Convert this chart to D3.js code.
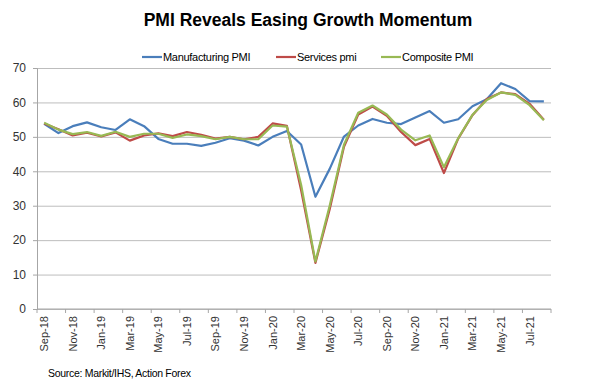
<!DOCTYPE html>
<html>
<head>
<meta charset="utf-8">
<script src="https://cdn.jsdelivr.net/npm/d3@7"></script>
<style>
  body { margin: 0; background: #fff; }
  svg { font-family: "Liberation Sans", Arial, sans-serif; }
  .grid line { stroke: #bdbdbd; stroke-width: 1; }
  .grid path { display: none; }
  .axis text { fill: #333; }
  .line { fill: none; stroke-width: 2.2; stroke-linejoin: round; }
</style>
</head>
<body>
<div id="chart"></div>
<script>
var months = ["Sep-18","Oct-18","Nov-18","Dec-18","Jan-19","Feb-19","Mar-19","Apr-19","May-19","Jun-19","Jul-19","Aug-19",
  "Sep-19","Oct-19","Nov-19","Dec-19","Jan-20","Feb-20","Mar-20","Apr-20","May-20","Jun-20","Jul-20","Aug-20",
  "Sep-20","Oct-20","Nov-20","Dec-20","Jan-21","Feb-21","Mar-21","Apr-21","May-21","Jun-21","Jul-21","Aug-21"];

var manufacturing = [53.8,51.1,53.1,54.2,52.8,52.0,55.1,53.1,49.4,48.0,48.0,47.4,
  48.3,49.6,48.9,47.5,50.0,51.7,47.8,32.6,40.7,50.1,53.3,55.2,
  54.1,53.7,55.6,57.5,54.1,55.1,58.9,60.9,65.6,63.9,60.4,60.3];

var services = [53.9,52.2,50.4,51.2,50.1,51.3,48.9,50.4,51.0,50.2,51.4,50.6,
  49.5,50.0,49.3,50.0,53.9,53.2,34.5,13.4,29.0,47.1,56.5,58.8,
  56.1,51.4,47.6,49.4,39.5,49.5,56.3,61.0,62.9,62.4,59.6,55.0];

var composite = [54.1,52.1,50.8,51.4,50.3,51.5,50.0,50.9,50.9,49.7,50.7,50.2,
  49.3,50.0,49.3,49.3,53.3,53.0,36.0,13.8,30.0,47.7,57.0,59.1,
  56.5,52.1,49.0,50.4,41.2,49.6,56.4,60.7,62.9,62.2,59.2,54.8];

var yTicks = [0,10,20,30,40,50,60,70];

var series = [
  { name: "Manufacturing PMI", values: manufacturing, color: "#4a7ebb" },
  { name: "Services pmi", values: services, color: "#be4b48" },
  { name: "Composite PMI", values: composite, color: "#98b954" }
];

var margin = { top: 68, right: 49, bottom: 76, left: 37 },
  width = 600 - margin.left - margin.right,
  height = 385 - margin.top - margin.bottom;

var svg = d3.select("#chart").append("svg")
  .attr("width", 600)
  .attr("height", 385);

var g = svg.append("g")
  .attr("transform", "translate(" + margin.left + "," + margin.top + ")");

var x = d3.scaleBand()
  .domain(months)
  .range([0, width])
  .padding(0);

var y = d3.scaleLinear()
  .domain([0, 70])
  .range([height, 0]);

// gridlines
g.append("g")
  .attr("class", "grid")
  .call(d3.axisLeft(y).tickValues(yTicks).tickSize(-width).tickFormat(""));

// y axis
var yAxis = g.append("g")
  .attr("class", "axis")
  .call(d3.axisLeft(y).tickValues(yTicks).tickSize(4).tickPadding(7));
yAxis.select(".domain").attr("stroke", "#a6a6a6");
yAxis.selectAll(".tick line").attr("stroke", "#a6a6a6");
yAxis.selectAll("text").style("font-size", "12px");

// x axis: ticks between categories, every 2 months
var xAxisG = g.append("g")
  .attr("class", "axis")
  .attr("transform", "translate(0," + height + ")");

xAxisG.append("line")
  .attr("x1", 0).attr("x2", width)
  .attr("stroke", "#a6a6a6");

var tickPos = months.filter(function(d, i) { return i % 2 === 0; })
  .map(function(d) { return x(d); }).concat([width]);

xAxisG.selectAll(".xtick")
  .data(tickPos)
  .enter().append("line")
  .attr("x1", function(d) { return d; })
  .attr("x2", function(d) { return d; })
  .attr("y1", 0).attr("y2", 4)
  .attr("stroke", "#a6a6a6");

xAxisG.selectAll(".xlabel")
  .data(months.filter(function(d, i) { return i % 2 === 0; }))
  .enter().append("text")
  .attr("transform", function(d) {
    return "translate(" + (x(d) + x.bandwidth() / 2 + 4) + ",7) rotate(-90)";
  })
  .style("text-anchor", "end")
  .style("font-size", "11px")
  .text(function(d) { return d; });

// lines
var valueline = d3.line()
  .x(function(d, i) { return x(months[i]) + x.bandwidth() / 2; })
  .y(function(d) { return y(d); });

g.selectAll(".line")
  .data(series)
  .enter().append("path")
  .attr("class", "line")
  .style("stroke", function(d) { return d.color; })
  .attr("d", function(d) { return valueline(d.values); });

// title
svg.append("text")
  .attr("x", 308)
  .attr("y", 26)
  .style("text-anchor", "middle")
  .style("font-size", "17.5px")
  .style("font-weight", "bold")
  .text("PMI Reveals Easing Growth Momentum");

// legend
var legendX = [142, 276, 381];
var legend = svg.selectAll(".legend")
  .data(series)
  .enter().append("g")
  .attr("transform", function(d, i) { return "translate(" + legendX[i] + ",57)"; });

legend.append("line")
  .attr("x1", 0).attr("x2", 20)
  .attr("stroke", function(d) { return d.color; })
  .attr("stroke-width", 2.2);

legend.append("text")
  .attr("x", 21)
  .attr("dy", "0.35em")
  .style("font-size", "11px")
  .style("letter-spacing", "-0.3px")
  .text(function(d) { return d.name; });

// source
svg.append("text")
  .attr("x", 48)
  .attr("y", 377)
  .style("font-size", "10.5px")
  .style("letter-spacing", "-0.3px")
  .text("Source: Markit/IHS, Action Forex");
</script>
</body>
</html>
